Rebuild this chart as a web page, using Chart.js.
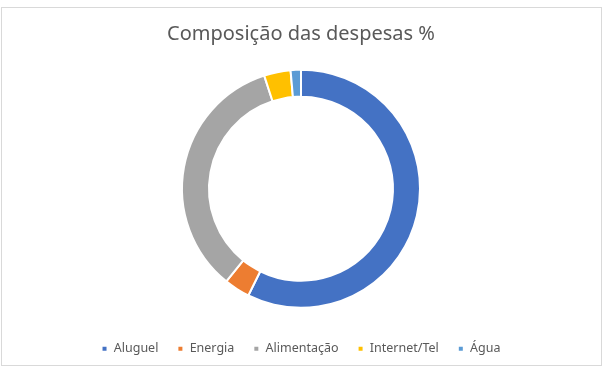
<!DOCTYPE html>
<html>
<head>
<meta charset="utf-8">
<script src="https://cdn.jsdelivr.net/npm/chart.js@4"></script>
<style>
    body { margin: 0; background: #fff; }
    #wrap { width: 612px; height: 380px; }
</style>
</head>
<body>
<div id="wrap"><canvas id="despesasChart" width="612" height="380"></canvas></div>
<script>
// Data for the expenses chart
const categories = ['Aluguel', 'Energia', 'Alimentação', 'Internet/Tel', 'Água'];
const percentages = [57.3, 3.5, 34.2, 3.6, 1.4];
const sliceColors = ['#4472C4', '#ED7D31', '#A5A5A5', '#FFC000', '#5B9BD5'];

const textColor = '#595959';
const fontName = "'Noto Sans', sans-serif";

// Grey frame round the chart, like the spreadsheet chart box
const framePlugin = {
    id: 'frame',
    beforeDraw(chart) {
        const ctx = chart.ctx;
        ctx.save();
        ctx.fillStyle = '#ffffff';
        ctx.fillRect(0, 0, chart.width, chart.height);
        ctx.strokeStyle = '#d9d9d9';
        ctx.lineWidth = 1;
        ctx.strokeRect(1.5, 7.5, 600, 358);
        ctx.restore();
    }
};

const despesasCtx = document.getElementById('despesasChart').getContext('2d');

const despesasChart = new Chart(despesasCtx, {
    type: 'doughnut',
    data: {
        labels: categories,
        datasets: [{
            data: percentages,
            backgroundColor: sliceColors,
            borderColor: '#ffffff',
            borderWidth: 2,
            radius: 119,
            cutout: '77.3%'
        }]
    },
    options: {
        responsive: false,
        animation: false,
        layout: {
            padding: { top: 8, right: 10, bottom: 15, left: 0 }
        },
        plugins: {
            title: {
                display: true,
                text: 'Composição das despesas %',
                color: textColor,
                font: { family: fontName, size: 20, weight: 'normal' },
                padding: { top: 14, bottom: 8 }
            },
            legend: {
                position: 'bottom',
                labels: {
                    color: textColor,
                    font: { family: fontName, size: 12.5 },
                    boxWidth: 6,
                    boxHeight: 6,
                    padding: 19
                }
            },
            tooltip: { enabled: false }
        }
    },
    plugins: [framePlugin]
});
</script>
</body>
</html>
